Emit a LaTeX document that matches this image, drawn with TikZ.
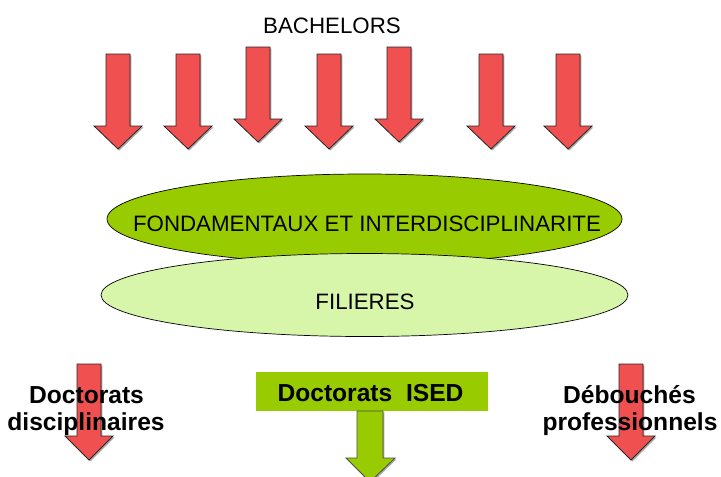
\documentclass[tikz,border=0pt]{standalone}
\usepackage{fontspec}
\setmainfont{Liberation Sans}
\definecolor{arrred}{RGB}{240,80,80}
\definecolor{darkgreen}{RGB}{153,204,0}
\definecolor{lightgreen}{RGB}{215,246,170}
\tikzset{
  redarrow/.style={fill=arrred,draw=black!85,line width=0.8pt,line join=miter},
  greenarrow/.style={fill=darkgreen,draw=black!70,line width=0.8pt,line join=miter},
  arrshadow/.style={fill=black!35,draw=none},
  ellA/.style={fill=darkgreen,draw=black,line width=0.7pt},
  ellB/.style={fill=lightgreen,draw=black,line width=0.7pt},
  plaintext/.style={inner sep=0pt,anchor=base,font=\fontsize{22.3}{26}\selectfont},
  boldtext/.style={inner sep=0pt,anchor=base,font=\fontsize{24.6}{28}\selectfont\bfseries},
  greenbox/.style={fill=darkgreen,draw=none,minimum width=232pt,minimum height=39pt,inner sep=0pt}
}
% cx, top, headstart, tip
\newcommand\dnarrpath[4]{(#1-12,#2) -- (#1+12,#2) -- (#1+12,#3) -- (#1+24,#3) -- (#1,#4) -- (#1-24,#3) -- (#1-12,#3) -- cycle}
\newcommand\redarr[4]{%
  \fill[arrshadow,shift={(1.4,1.4)}] \dnarrpath{#1}{#2}{#3}{#4};
  \draw[redarrow] \dnarrpath{#1}{#2}{#3}{#4};}
\begin{document}
\begin{tikzpicture}[x=1pt,y=-1pt]
\useasboundingbox (0,0) rectangle (721,477);
\clip (0,0) rectangle (721,477);
% title
\node[plaintext] (bach) at (332,33) {BACHELORS};
% top arrows
\redarr{118}{54}{126}{149}
\redarr{188}{54}{126}{149}
\redarr{258}{47}{119}{142}
\redarr{329}{54}{126}{149}
\redarr{399}{47}{119}{142}
\redarr{491}{54}{126}{149}
\redarr{568}{54}{126}{149}
% ellipses
\draw[ellA] (364.5,219) ellipse [x radius=257.5, y radius=45];
\node[plaintext] (fond) at (367,231) {FONDAMENTAUX ET INTERDISCIPLINARITE};
\draw[ellB] (364.5,295) ellipse [x radius=263.5, y radius=41.5];
\node[plaintext] (fil) at (365,309) {FILIERES};
% bottom red arrows
\redarr{89}{364}{436}{460}
\redarr{631}{364}{436}{460}
% green box and arrow
\node[greenbox] (ised) at (372,391.5) {};
\fill[arrshadow,shift={(1.4,1.4)}] (357,411) -- (383,411) -- (383,458) -- (395,458) -- (370,482) -- (346,458) -- (357,458) -- cycle;
\draw[greenarrow] (357,411) -- (383,411) -- (383,458) -- (395,458) -- (370,482) -- (346,458) -- (357,458) -- cycle;
\node[boldtext] (isedtxt) at (370.5,401) {Doctorats\ \ ISED};
% bottom labels
\node[boldtext] (dl1) at (86.5,403) {Doctorats};
\node[boldtext] (dl2) at (86,430) {disciplinaires};
\node[boldtext] (dr1) at (629.5,403) {Débouchés};
\node[boldtext] (dr2) at (630,430) {professionnels};
\end{tikzpicture}
\end{document}
